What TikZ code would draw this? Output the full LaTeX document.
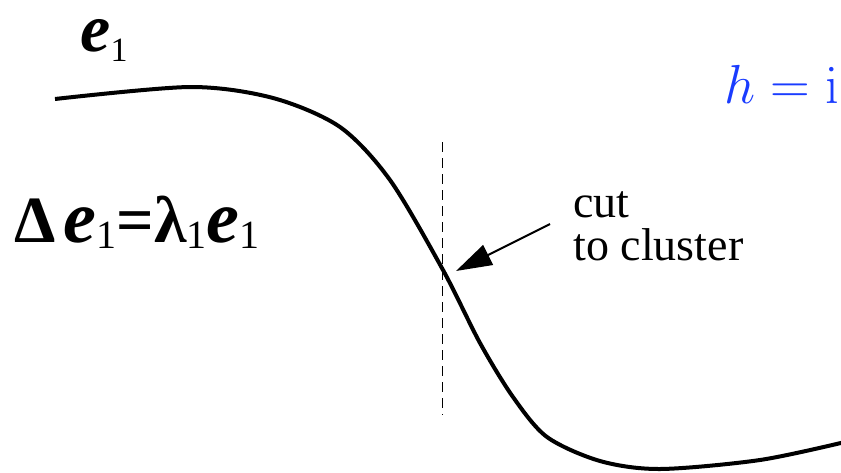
\documentclass[tikz,border=0pt]{standalone}
\usepackage{fix-cm}
\usepackage[no-math]{fontspec}
\usetikzlibrary{arrows.meta}
\setmainfont{Liberation Serif}
\definecolor{hblue}{RGB}{26,60,255}
\tikzset{
    lbl/.style={anchor=base west, inner sep=0pt},
}
\newcommand{\evec}{{\fontsize{37}{37}\selectfont\textbf{\textit{e}}}}
\newcommand{\sub}{\raisebox{-3pt}{\fontsize{20}{20}\selectfont 1}}
\begin{document}
\begin{tikzpicture}[x=0.5pt,y=-0.5pt]
        \useasboundingbox (0,0) rectangle (841,472);
        \clip (0,0) rectangle (841,472);
        % eigenvector curve
        \draw[line width=2pt] plot[smooth, tension=0.5] coordinates {(55,99) (190,87) (273,98) (340,127) (390,180) (443,270) (480,343) (513,397) (547,437) (600,461) (660,469) (760,460) (845,442)};
        \node[lbl] (eone) at (80,51) {\fontsize{34}{34}\selectfont\textbf{\textit{e}}\raisebox{-5pt}{\fontsize{17}{17}\selectfont 1}};
        \node[lbl] (eigeq) at (14,242) {\fontsize{33}{33}\selectfont\textbf{Δ}\hspace{4pt}\evec\sub\textbf{=λ}\sub\evec\sub};
        \node[lbl, text=hblue] (hval) at (724,103) {\fontsize{27.5}{27.5}\selectfont $h=\mathrm{i}$};
        % cut
        \coordinate (cuttop) at (442,142);
        \coordinate (cutbot) at (442,415);
        \draw[line width=0.5pt, dash pattern=on 5pt off 3pt] (cuttop) -- (cutbot);
        \node[lbl] (cut) at (573,217) {\fontsize{23}{23}\selectfont cut};
        \node[lbl] (tocluster) at (573,260) {\fontsize{23}{23}\selectfont to cluster};
        \coordinate (cutfrom) at (550,224);
        \coordinate (cutpoint) at (456,271);
        \draw[line width=1pt, -{Triangle[length=18pt, width=11pt]}] (cutfrom) -- (cutpoint);
    \end{tikzpicture}
\end{document}
